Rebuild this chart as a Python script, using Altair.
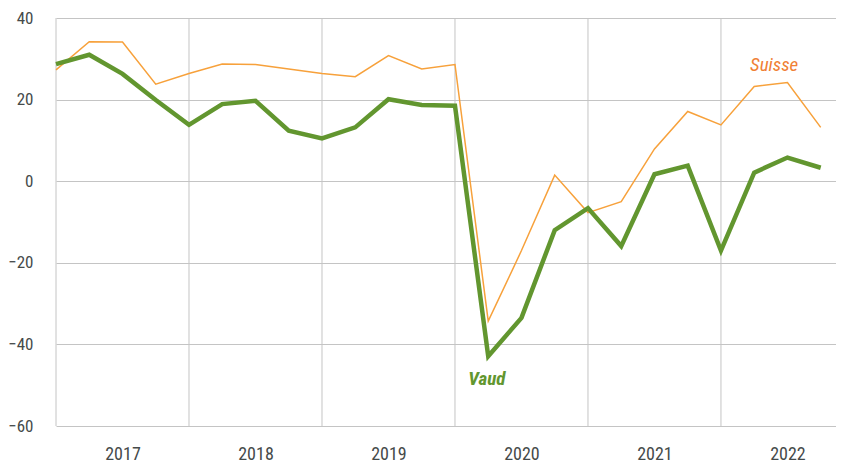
import altair as alt
import pandas as pd

quarters = [2017 + i * 0.25 for i in range(24)]
vaud = [28.7, 31.0, 26.3, 19.9, 13.8, 18.9, 19.7, 12.4,
        10.5, 13.2, 20.1, 18.7, 18.5, -42.9, -33.5, -12.0,
        -6.6, -15.9, 1.7, 3.8, -17.0, 2.1, 5.8, 3.3]
suisse = [27.3, 34.2, 34.1, 23.8, 26.4, 28.7, 28.6, 27.5,
          26.4, 25.6, 30.8, 27.5, 28.6, -34.3, -17.0, 1.5,
          -7.7, -5.0, 7.9, 17.1, 13.8, 23.2, 24.2, 13.2]
years = [2017, 2018, 2019, 2020, 2021, 2022]
year_labels = ["2017", "2018", "2019", "2020", "2021", "2022"]

FONT = "Roboto Condensed, Liberation Sans Narrow, DejaVu Sans Condensed, sans-serif"

df = pd.DataFrame({"t": quarters * 2,
                   "v": vaud + suisse,
                   "s": ["Vaud"] * 24 + ["Suisse"] * 24})
grid_df = pd.DataFrame({"t": years})
lab_df = pd.DataFrame({"t": [2022.40, 2020.24], "v": [28.6, -48.6],
                       "s": ["Suisse", "Vaud"]})

xscale = alt.Scale(domain=[2017, 2022.865], nice=False, zero=False)
yscale = alt.Scale(domain=[-60, 40], nice=False)

xaxis = alt.Axis(values=[y + 0.5 for y in years],
                 labelExpr="floor(datum.value)", grid=False, ticks=False,
                 domain=False, title=None, labelFont=FONT, labelFontSize=18,
                 labelColor="#454a4a", labelPadding=19)
yaxis = alt.Axis(values=[-60, -40, -20, 0, 20, 40], grid=True, ticks=False,
                 domain=False, title=None, labelFont=FONT, labelFontSize=17,
                 labelColor="#454a4a", labelPadding=23, gridColor="#c4c4c4",
                 gridWidth=1)

vgrid = alt.Chart(grid_df).mark_rule(color="#c4c4c4", strokeWidth=1).encode(
    x=alt.X("t:Q", scale=xscale, axis=xaxis),
)

base = alt.Chart(df).encode(
    x=alt.X("t:Q", scale=xscale, axis=xaxis),
    y=alt.Y("v:Q", scale=yscale, axis=yaxis),
)
l_suisse = base.transform_filter(alt.datum.s == "Suisse").mark_line(
    color="#f7a13b", strokeWidth=1.5)
l_vaud = base.transform_filter(alt.datum.s == "Vaud").mark_line(
    color="#62962f", strokeWidth=4.5)

t_suisse = alt.Chart(lab_df).transform_filter(alt.datum.s == "Suisse").mark_text(
    font=FONT, fontSize=19, fontStyle="italic", color="#f08035").encode(
    x=alt.X("t:Q", scale=xscale), y=alt.Y("v:Q", scale=yscale), text="s:N")
t_vaud = alt.Chart(lab_df).transform_filter(alt.datum.s == "Vaud").mark_text(
    font=FONT, fontSize=19, fontStyle="italic", fontWeight="bold",
    color="#62962f").encode(
    x=alt.X("t:Q", scale=xscale), y=alt.Y("v:Q", scale=yscale), text="s:N")

chart = alt.layer(vgrid, l_suisse, l_vaud, t_suisse, t_vaud).properties(
    width=780, height=408,
    autosize=alt.AutoSizeParams(type="none"),
    padding={"left": 48, "top": 10, "right": 0, "bottom": 40},
).configure_view(stroke=None)

chart.save("out.html", embed_options={"renderer": "svg", "actions": False})
